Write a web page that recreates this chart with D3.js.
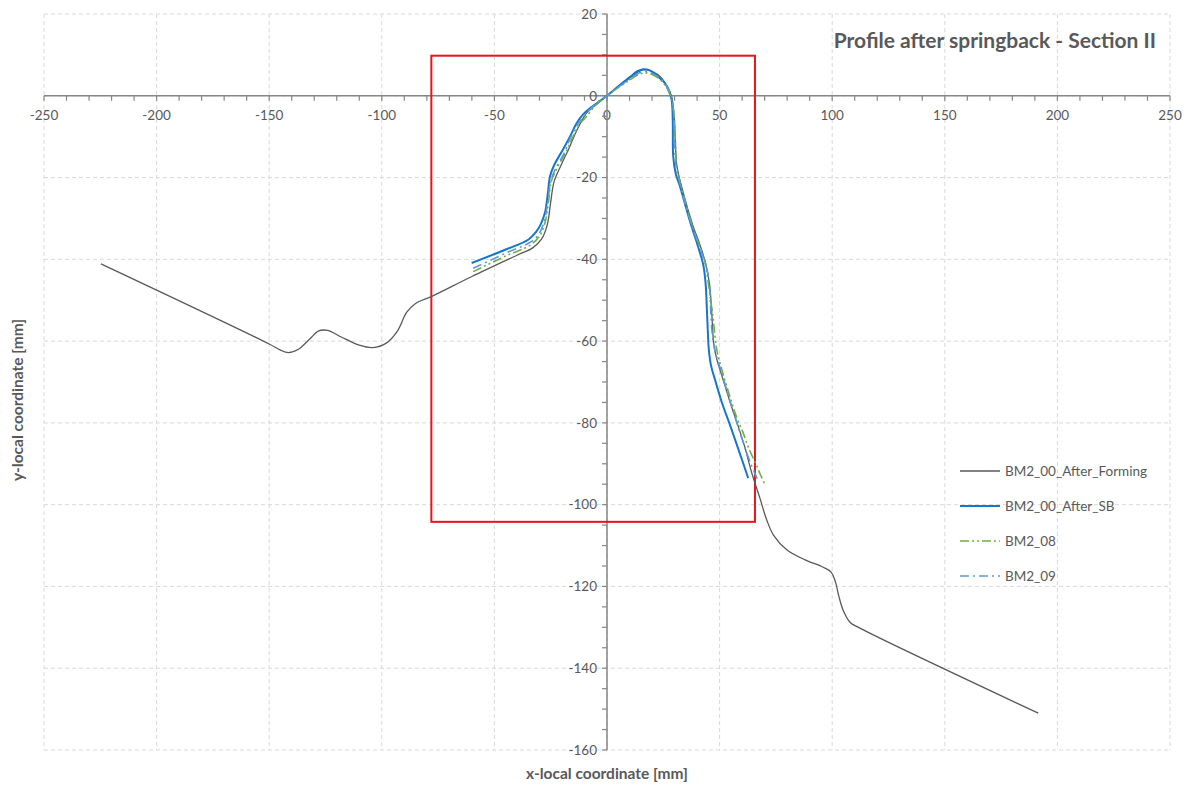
<!DOCTYPE html>
<html>
<head>
<meta charset="utf-8">
<script src="https://cdn.jsdelivr.net/npm/d3@7/dist/d3.min.js"></script>
<style>
  html, body { margin: 0; padding: 0; background: #fff; }
  svg { display: block; font-family: Lato, "Open Sans", sans-serif; }
</style>
</head>
<body>
<svg id="chart" width="1188" height="787"></svg>
<script>
// Profile coordinates [x, y] in mm for each section profile
const afterForming = [
  [-224.7,-41.1],[-150,-60.7],[-145,-62.2],[-141.5,-62.8],[-137,-62],[-132,-59.5],[-128,-57.5],
  [-124,-57.4],[-118,-59],[-110,-61],[-104,-61.6],[-98,-60.5],[-93,-57.5],[-89,-53],[-85,-50.8],
  [-78,-49.1],[-60,-44.2],[-40,-39],[-33,-37.2],[-29,-35],[-26.5,-31.5],[-25,-26],[-23.5,-21],
  [-20,-16.5],[-17,-13],[-13,-8],[-9,-4.2],[-4,-1.8],[0,0],[5,2.2],[10,4.3],[14,5.9],[17,6.4],
  [20,6],[24,4.5],[27,2],[28.7,-0.2],[29.8,-5],[30.3,-10],[31,-17],[33.9,-23.8],[38.3,-32],
  [41,-36],[43.8,-41],[45.5,-46],[46.4,-52],[46.9,-57],[47.4,-60.8],[48.8,-64.5],[51.6,-69.5],
  [55,-75.5],[58.3,-80.9],[61.5,-86.5],[64.3,-92.3],[67.9,-98.4],[70.9,-103.7],[74,-107.5],
  [79.8,-111],[88,-113.5],[96,-115.3],[99.5,-116.5],[101.5,-119],[103,-122.5],[105,-126],
  [108,-128.8],[112.3,-130.2],[191.5,-151]
];
const afterSB = [
  [-60.1,-40.9],[-45,-37.6],[-35,-35.2],[-31.5,-33.3],[-29.5,-31.5],[-27.5,-28.5],[-26.3,-24],
  [-25.3,-19.7],[-23.5,-17],[-19.4,-13],[-16,-9.5],[-13.5,-6.7],[-10.5,-4.5],[-7,-2.8],[-3,-1.2],
  [0,0],[5,2.3],[10,4.5],[13.5,6],[16.1,6.5],[19,6.2],[22,5],[25.5,3.2],[27.5,1.2],[28.7,-1],
  [29.2,-6],[29.4,-14.8],[30.5,-19],[32.4,-22.2],[37,-31],[40.5,-37],[42.8,-41.5],[43.8,-46],
  [44.3,-51.5],[44.8,-58],[45.2,-62],[46.2,-66],[48,-69.5],[51,-75],[54.6,-80.5],[59,-87.5],
  [62.7,-93.5]
];
const bm208 = [
  [-59.4,-43],[-45,-39.2],[-34,-36.5],[-30,-34.3],[-27.5,-31],[-26,-26],[-24.8,-21],[-22.5,-18],
  [-18.5,-14],[-15.5,-10.5],[-12.5,-7.2],[-9,-5],[-5,-2.3],[0,0],[5,2],[10,3.8],[14,5.2],[17,5.6],
  [20,5.2],[23.5,4],[26.5,2],[28.5,-0.5],[29.8,-5],[30.3,-11],[31,-17.5],[33.5,-23.3],[38,-32],
  [43.5,-40.5],[45,-45.8],[47.2,-54.8],[48.7,-62],[51,-67],[54.6,-73.6],[57.5,-78.5],[60.5,-82.5],
  [63,-86.3],[65.7,-89.5],[68,-92.5],[70.2,-95.2]
];
const bm209 = [
  [-59.4,-42.2],[-45,-38.5],[-34,-35.8],[-30.5,-34],[-28,-31],[-26.3,-26],[-25,-21],[-23,-18],
  [-19,-14],[-16,-10],[-13,-7],[-9.5,-4.5],[-5,-2],[0,0],[5,2.1],[10,4],[14,5.5],[16.5,6],
  [19.5,5.6],[23,4.5],[26.5,2.5],[28.5,0],[29.6,-4],[30,-10],[30.6,-17],[33,-22.8],[37.5,-31.5],
  [43,-40],[45.3,-45],[46,-52],[46.7,-58],[48,-62.5],[50.5,-67],[53.2,-72],[56.5,-78],[60,-84],
  [63.5,-89.5],[66.8,-93.8]
];

const seriesNames = ["BM2_00_After_Forming", "BM2_00_After_SB", "BM2_08", "BM2_09"];
const xTicks = [-250,-200,-150,-100,-50,0,50,100,150,200,250];
const yTicks = [20,0,-20,-40,-60,-80,-100,-120,-140,-160];
// highlighted region [x0, x1, y0, y1] in mm
const regionBox = [-78, 65.7, 9.8, -104.2];

const series = [
  { name: seriesNames[0], data: afterForming, color: "#595959", width: 1.3, dash: null },
  { name: seriesNames[1], data: afterSB, color: "#1577CC", width: 2, dash: null },
  { name: seriesNames[2], data: bm208, color: "#70AD47", width: 1.6, dash: "9,3,2,3,2,3" },
  { name: seriesNames[3], data: bm209, color: "#5B9BD5", width: 1.6, dash: "9,4,2,4" }
];

const svg = d3.select("#chart");
const plotL = 44, plotR = 1170, plotT = 14, plotB = 750;
const x = d3.scaleLinear().domain([-250, 250]).range([plotL, plotR]);
const y = d3.scaleLinear().domain([20, -160]).range([plotT, plotB]);

const textColor = "#595959";
const axisColor = "#868686";

// grid
const grid = svg.append("g");
grid.selectAll("line.vx").data(xTicks).enter().append("line")
  .attr("x1", d => x(d)).attr("x2", d => x(d)).attr("y1", plotT).attr("y2", plotB)
  .attr("stroke", "#d9d9d9").attr("stroke-width", 1).attr("stroke-dasharray", "4,3");
grid.selectAll("line.hy").data(yTicks).enter().append("line")
  .attr("y1", d => y(d)).attr("y2", d => y(d)).attr("x1", plotL).attr("x2", plotR)
  .attr("stroke", "#d9d9d9").attr("stroke-width", 1).attr("stroke-dasharray", "4,3");

// x axis through y = 0
const xMinor = d3.range(-250, 251, 10);
const xAxis = svg.append("g").attr("transform", `translate(0,${y(0)})`);
xAxis.append("line").attr("x1", plotL).attr("x2", plotR).attr("stroke", axisColor).attr("stroke-width", 1.5);
xAxis.selectAll("line.t").data(xMinor).enter().append("line")
  .attr("x1", d => x(d)).attr("x2", d => x(d)).attr("y1", 0).attr("y2", 5)
  .attr("stroke", axisColor).attr("stroke-width", 1.2);
xAxis.selectAll("text").data(xTicks).enter().append("text")
  .attr("x", d => x(d)).attr("y", 24).attr("text-anchor", "middle")
  .attr("font-size", 13.5).attr("fill", textColor).text(d => d);

// y axis through x = 0
const yMinor = d3.range(20, -161, -5);
const yAxis = svg.append("g").attr("transform", `translate(${x(0)},0)`);
yAxis.append("line").attr("y1", plotT).attr("y2", plotB).attr("stroke", axisColor).attr("stroke-width", 1.5);
yAxis.selectAll("line.t").data(yMinor).enter().append("line")
  .attr("y1", d => y(d)).attr("y2", d => y(d)).attr("x1", -5).attr("x2", 0)
  .attr("stroke", axisColor).attr("stroke-width", 1.2);
yAxis.selectAll("text").data(yTicks).enter().append("text")
  .attr("x", -10).attr("y", d => y(d)).attr("dy", "0.35em").attr("text-anchor", "end")
  .attr("font-size", 13.5).attr("fill", textColor).text(d => d);

// highlighted region
svg.append("rect")
  .attr("x", x(regionBox[0])).attr("y", y(regionBox[2]))
  .attr("width", x(regionBox[1]) - x(regionBox[0]))
  .attr("height", y(regionBox[3]) - y(regionBox[2]))
  .attr("fill", "none").attr("stroke", "#E3161C").attr("stroke-width", 2);

// profiles
const line = d3.line().x(d => x(d[0])).y(d => y(d[1])).curve(d3.curveCatmullRom.alpha(0.5));
svg.append("g").selectAll("path").data(series).enter().append("path")
  .attr("d", d => line(d.data))
  .attr("fill", "none").attr("stroke", d => d.color).attr("stroke-width", d => d.width)
  .attr("stroke-dasharray", d => d.dash).attr("stroke-linejoin", "round");

// legend
const legend = svg.append("g").attr("transform", "translate(960,471)");
const rows = legend.selectAll("g").data(series).enter().append("g")
  .attr("transform", (d, i) => `translate(0,${i * 35})`);
rows.append("line").attr("x1", 0).attr("x2", 40)
  .attr("stroke", d => d.color).attr("stroke-width", d => d.width).attr("stroke-dasharray", d => d.dash);
rows.append("text").attr("x", 45).attr("dy", "0.35em")
  .attr("font-size", 13.5).attr("fill", textColor).text(d => d.name);

// title
svg.append("text").attr("x", 1156).attr("y", 48).attr("text-anchor", "end")
  .attr("font-size", 21).attr("font-weight", "bold").attr("fill", textColor)
  .text("Profile after springback - Section II");

// axis titles
svg.append("text").attr("x", x(0)).attr("y", 779).attr("text-anchor", "middle")
  .attr("font-size", 15.5).attr("font-weight", "bold").attr("fill", textColor)
  .text("x-local coordinate [mm]");
svg.append("text").attr("transform", "translate(23,400) rotate(-90)")
  .attr("text-anchor", "middle")
  .attr("font-size", 15.5).attr("font-weight", "bold").attr("fill", textColor)
  .text("y-local coordinate [mm]");
</script>
</body>
</html>
